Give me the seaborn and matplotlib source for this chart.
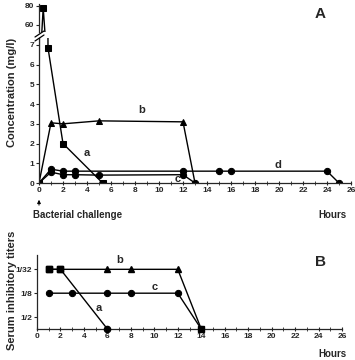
import matplotlib
matplotlib.use("Agg")
import matplotlib.pyplot as plt
import seaborn as sns
import pandas as pd

sns.set_style("ticks")
plt.rcParams['font.family'] = ['Liberation Sans', 'DejaVu Sans']

# ---- Panel A data (concentration mg/l vs hours) ----
a_x = [0, 0.35, 0.75, 2, 5.3]
a_y = [0, 78, 6.85, 2.0, 0]
b_x = [0, 1, 2, 5, 12, 13]
b_y = [0, 3.05, 3.0, 3.15, 3.1, 0]
c_x = [0, 1, 2, 3, 5, 12, 13]
c_y = [0, 0.55, 0.42, 0.42, 0.4, 0.42, 0]
d_x = [0, 1, 2, 3, 12, 15, 16, 24, 25]
d_y = [0, 0.7, 0.6, 0.6, 0.6, 0.6, 0.6, 0.6, 0]

# ---- Panel B data (serum inhibitory titers, log2 of denominator) ----
ba_x = [1, 2, 6]
ba_y = [5, 5, 0]
ba_markers = ["s", "s", "o"]
bb_x = [1, 2, 6, 8, 12, 14]
bb_y = [5, 5, 5, 5, 5, 0]
bb_markers = ["s", "s", "^", "^", "^", "s"]
bc_x = [1, 3, 6, 8, 12, 14]
bc_y = [3, 3, 3, 3, 3, 0]
titer_ticks = [1, 3, 5]
titer_labels = ["1/2", "1/8", "1/32"]

W, H = 355, 360
fig = plt.figure(figsize=(W / 100, H / 100), dpi=100)

def rect(left, right, top, bottom):
    return [left / W, 1 - bottom / H, (right - left) / W, (bottom - top) / H]

axT = fig.add_axes(rect(39, 351, 4, 32))
axA = fig.add_axes(rect(39, 351, 38, 183))
axB = fig.add_axes(rect(37, 342, 255, 329))

tick_kw = dict(labelsize=6, width=0.8, length=2.5, pad=1)
lw = 1.0
MS = {"s": 5, "^": 5, "o": 4.5}

def draw(ax, x, y, marker, markers=None):
    df = pd.DataFrame({"x": x, "y": y})
    if markers is None:
        sns.lineplot(data=df, x="x", y="y", ax=ax, color="black", marker=marker,
                     markersize=MS[marker], markeredgecolor="black", linewidth=lw,
                     sort=False, estimator=None)
    else:
        sns.lineplot(data=df, x="x", y="y", ax=ax, color="black", linewidth=lw,
                     sort=False, estimator=None)
        for m in set(markers):
            sub = df[[mm == m for mm in markers]]
            ax.plot(sub["x"], sub["y"], linestyle="none", marker=m, color="black",
                    markersize=MS[m], clip_on=False, zorder=3)

for ax in (axT, axA):
    draw(ax, a_x, a_y, "s")
    draw(ax, b_x, b_y, "^")
    draw(ax, c_x, c_y, "o")
    draw(ax, d_x, d_y, "o")
    ax.set_xlim(0, 26)
    ax.set_xlabel("")
    ax.set_ylabel("")

axT.set_ylim(52.6, 82)
axT.set_yticks([60, 80])
axT.set_xticks([])
for s in ("top", "right", "bottom"):
    axT.spines[s].set_visible(False)
axT.tick_params(axis="y", **tick_kw)

axA.set_ylim(0, 7.35)
axA.set_yticks(range(0, 8))
axA.set_xticks(range(0, 27, 2))
axA.set_xticks(range(0, 27), minor=True)
for s in ("top", "right"):
    axA.spines[s].set_visible(False)
axA.tick_params(axis="both", **tick_kw)
axA.tick_params(axis="x", direction="inout", length=3.5)
axA.tick_params(axis="x", which="minor", direction="inout", length=2.5, width=0.6)

# break marks
for dy in (0, 4):
    fig.lines.append(plt.Line2D([35 / W, 44 / W],
                                [1 - (37 + dy) / H, 1 - (31 + dy) / H],
                                transform=fig.transFigure, color="black", lw=0.9))

tk = dict(fontsize=8, fontweight="bold")
axA.text(3.7, 1.35, "a", **tk)
axA.text(8.3, 3.55, "b", **tk)
axA.text(11.3, 0.05, "c", **tk)
axA.text(19.6, 0.75, "d", **tk)
fig.text(320 / W, 1 - 14 / H, "A", fontsize=11, fontweight="bold", ha="center", va="center")
fig.text(12 / W, 1 - 92 / H, "Concentration (mg/l)", rotation=90, fontsize=8,
         fontweight="bold", ha="center", va="center")

# arrow and challenge label
fig.add_artist(matplotlib.patches.FancyArrowPatch(
    (39 / W, 1 - 208 / H), (39 / W, 1 - 197 / H), transform=fig.transFigure,
    arrowstyle="-|>", mutation_scale=5, color="black", lw=0.7))
fig.text(33 / W, 1 - 215 / H, "Bacterial challenge", fontsize=7, fontweight="bold",
         ha="left", va="center")
fig.text(318 / W, 1 - 215 / H, "Hours", fontsize=7, fontweight="bold",
         ha="left", va="center")

# ---- Panel B ----
draw(axB, ba_x, ba_y, "s", ba_markers)
draw(axB, bb_x, bb_y, "^", bb_markers)
draw(axB, bc_x, bc_y, "o")
axB.set_xlim(0, 26)
axB.set_ylim(0, 6.2)
axB.set_xlabel("")
axB.set_ylabel("")
axB.set_yticks(titer_ticks)
axB.set_yticklabels(titer_labels)
axB.set_xticks(range(0, 27, 2))
axB.set_xticks(range(0, 27), minor=True)
for s in ("top", "right"):
    axB.spines[s].set_visible(False)
axB.tick_params(axis="both", **tick_kw)
axB.tick_params(axis="x", direction="inout", length=3.5)
axB.tick_params(axis="x", which="minor", direction="inout", length=2.5, width=0.6)

for ax in (axT, axA, axB):
    for s in ax.spines.values():
        s.set_linewidth(0.9)
    for lab in ax.get_xticklabels() + ax.get_yticklabels():
        lab.set_fontweight("bold")

axB.text(6.8, 5.5, "b", **tk)
axB.text(9.8, 3.3, "c", **tk)
axB.text(5.0, 1.5, "a", **tk)
fig.text(320 / W, 1 - 262 / H, "B", fontsize=11, fontweight="bold", ha="center", va="center")
fig.text(12 / W, 1 - 290 / H, "Serum inhibitory titers", rotation=90, fontsize=8,
         fontweight="bold", ha="center", va="center")
fig.text(318 / W, 1 - 359 / H, "Hours", fontsize=7, fontweight="bold",
         ha="left", va="bottom")

fig.savefig("out.png", dpi=100)
